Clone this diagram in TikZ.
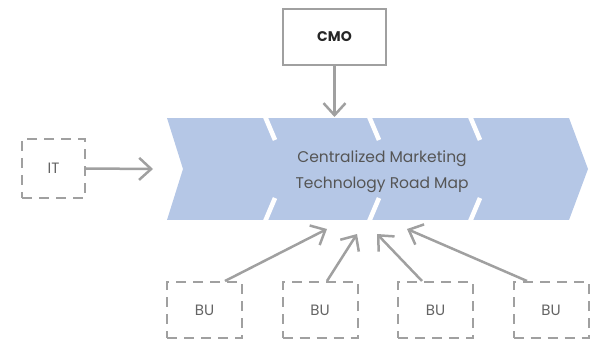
\documentclass[tikz,border=0pt]{standalone}
\usepackage{fontspec}
\setmainfont{Poppins}
\usetikzlibrary{arrows.meta,calc}
\definecolor{band}{RGB}{181,199,230}
\definecolor{linegray}{RGB}{160,160,160}
\definecolor{txtgray}{RGB}{85,85,85}
\definecolor{lbltxt}{RGB}{100,100,100}
\tikzset{
  solidbox/.style={draw=linegray, line width=2.6pt, minimum width=103pt, minimum height=56pt, inner sep=0pt, text=black!85, font=\fontsize{14}{16}\selectfont\bfseries},
  dashbox/.style={draw=linegray, line width=2pt, dash pattern=on 10pt off 7pt, minimum width=75pt, minimum height=56pt, inner sep=0pt, text=lbltxt, font=\fontsize{15}{16}\selectfont},
  conn/.style={draw=linegray, line width=2.5pt, -{Straight Barb[length=12pt,width=22pt,line width=2.5pt]}},
  sep/.style={draw=white, line width=4.6pt}
}
\begin{document}
\begin{tikzpicture}[x=1pt,y=-1pt]
\useasboundingbox (0,0) rectangle (593,344);
% band
\fill[band] (167,118) -- (569,118) -- (588,169) -- (569,220) -- (167,220) -- (183,169) -- cycle;
\foreach \gx in {265.5,369.5,470.5}{
  \draw[sep] (\gx-1.5,114) -- (\gx+9.5,140);
  \draw[sep] (\gx+9.5,198) -- (\gx-1.5,224);
}
\fill[white] (0,110) rectangle (593,118);
\fill[white] (160,220) rectangle (593,226);
\node[text=txtgray, font=\fontsize{15.5}{26}\selectfont, align=center] (road) at (382,171.5) {Centralized Marketing\\Technology Road Map};
% boxes
\node[solidbox] (cmo) at (334.5,37) {CMO};
\node[dashbox, minimum width=63pt, minimum height=59pt] (it) at (53.5,168.5) {IT};
\node[dashbox] (bu1) at (204.5,310) {BU};
\node[dashbox] (bu2) at (320,310) {BU};
\node[dashbox] (bu3) at (435.5,310) {BU};
\node[dashbox] (bu4) at (551,310) {BU};
% targets
\coordinate (tc) at (334.5,117);
\coordinate (ti) at (153,169);
\coordinate (t1) at (327,229);
\coordinate (t2) at (357,234);
\coordinate (t3) at (377,234);
\coordinate (t4) at (407,229);
% connectors
\draw[conn] (cmo.south) -- (tc);
\draw[conn] (it.east) -- (ti);
\draw[conn] ([xshift=20.5pt]bu1.north) -- (t1);
\draw[conn] ([xshift=7pt]bu2.north) -- (t2);
\draw[conn] ([xshift=-13.5pt]bu3.north) -- (t3);
\draw[conn] ([xshift=-24pt]bu4.north) -- (t4);
\end{tikzpicture}
\end{document}
